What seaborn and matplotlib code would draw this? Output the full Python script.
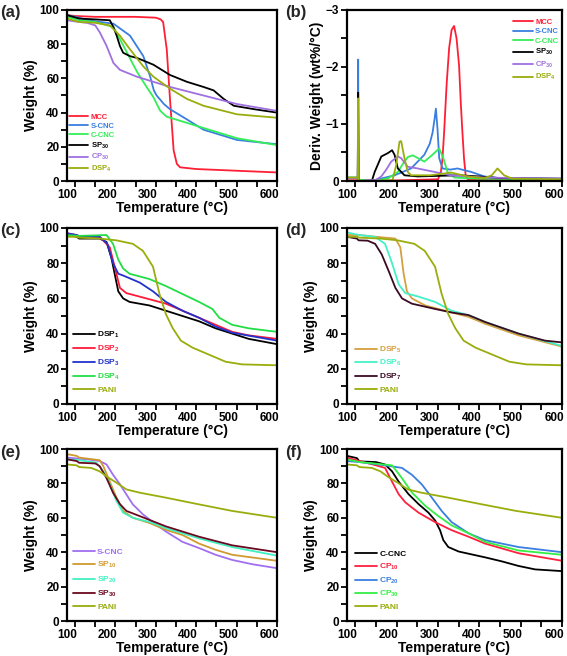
import matplotlib
matplotlib.use("Agg")
import matplotlib.pyplot as plt
import matplotlib.transforms as mtransforms
from matplotlib.ticker import MultipleLocator
import seaborn as sns

# dados (temperatura em oC, massa em %)

# (a) TGA dos materiais de partida
a_mcc_t = [80, 100, 150, 200, 250, 300, 312, 318, 327, 335, 344, 352, 360, 400, 500, 600]
a_mcc_w = [97, 96.5, 96, 96, 96, 95.5, 94.5, 93, 77, 48, 18, 10, 8, 7, 6, 5]
a_scnc_t = [80, 110, 130, 195, 236, 269, 286, 295, 302, 320, 335, 377, 418, 501, 600]
a_scnc_w = [97, 95.5, 94, 92, 85, 73, 61, 53, 50, 45, 42, 36, 30, 24, 21.5]
a_ccnc_t = [80, 110, 150, 195, 211, 253, 277, 294, 311, 327, 352, 418, 501, 600]
a_ccnc_w = [96, 94, 93, 90, 83, 64, 55, 49, 41, 37.6, 35.8, 31, 25, 21]
a_sp30_t = [80, 110, 150, 186, 195, 203, 211, 219, 236, 253, 294, 335, 377, 418, 443, 468, 493, 543, 600]
a_sp30_w = [97, 95, 94.5, 94, 90, 85, 79, 75, 73, 72, 68, 62, 58, 55, 53, 48, 44, 42, 40]
a_cp30_t = [80, 110, 130, 150, 161, 178, 195, 211, 253, 294, 335, 418, 501, 600]
a_cp30_w = [94, 93, 92.5, 91, 87, 79, 69, 65, 61, 58, 55, 50, 45, 41]
a_dsp4_t = [80, 110, 150, 186, 211, 236, 269, 294, 335, 377, 418, 501, 600]
a_dsp4_w = [95, 93, 92.5, 91, 85, 77, 67, 61, 54, 48, 44, 39, 37]

# (b) DTG
b_mcc_t = [80, 106, 108, 200, 300, 307, 311, 315, 321, 327, 333, 339, 345, 351, 355, 359, 363, 367, 372, 600]
b_mcc_d = [-0.04, -0.04, -0.01, -0.01, -0.03, -0.15, -0.4, -0.87, -1.7, -2.33, -2.65, -2.72, -2.5, -2.03, -1.4, -0.87, -0.4, -0.1, -0.03, -0.01]
b_scnc_t = [80, 106, 107, 108, 110, 150, 195, 235, 267, 280, 287, 292, 295, 299, 303, 311, 330, 347, 380, 412, 450, 600]
b_scnc_d = [-0.06, -0.06, -2.13, -0.02, 0, -0.02, -0.1, -0.22, -0.46, -0.65, -0.85, -1.1, -1.27, -0.9, -0.4, -0.22, -0.2, -0.22, -0.16, -0.08, -0.05, -0.04]
b_ccnc_t = [80, 106, 108, 150, 180, 203, 215, 227, 239, 252, 267, 285, 303, 313, 323, 340, 400, 600]
b_ccnc_d = [-0.06, -0.06, -0.02, 0, -0.05, -0.16, -0.3, -0.42, -0.45, -0.4, -0.34, -0.45, -0.57, -0.4, -0.16, -0.06, -0.04, -0.03]
b_sp30_t = [80, 106, 107, 108, 110, 140, 147, 163, 179, 189, 195, 203, 219, 251, 300, 350, 400, 450, 600]
b_sp30_d = [-0.05, -0.05, -1.55, -0.02, 0, 0, -0.16, -0.43, -0.49, -0.54, -0.46, -0.22, -0.1, -0.08, -0.09, -0.1, -0.08, -0.05, -0.04]
b_cp30_t = [80, 106, 107, 108, 110, 150, 163, 175, 187, 203, 211, 227, 251, 291, 331, 412, 600]
b_cp30_d = [-0.05, -0.05, -0.57, -0.02, 0, -0.02, -0.08, -0.2, -0.34, -0.43, -0.4, -0.25, -0.22, -0.16, -0.1, -0.06, -0.04]
b_dsp4_t = [80, 106, 107, 108, 110, 190, 199, 207, 211, 219, 227, 235, 280, 315, 331, 371, 412, 430, 444, 460, 480, 600]
b_dsp4_d = [-0.06, -0.06, -1.45, -0.02, 0, -0.01, -0.28, -0.69, -0.7, -0.4, -0.16, -0.1, -0.1, -0.13, -0.15, -0.08, -0.05, -0.1, -0.22, -0.1, -0.04, -0.03]

# PANI (c, d)
pani1_t = [80, 104, 110, 161, 202, 243, 268, 293, 309, 325, 342, 362, 391, 432, 473, 514, 600]
pani1_w = [95, 95, 94.5, 94, 93, 91, 87, 78, 62.5, 51, 43, 36, 32, 28, 24, 22.5, 22]

# (c) DSP1-4
c_dsp1_t = [80, 104, 110, 161, 178, 190, 198, 207, 219, 235, 284, 325, 366, 407, 448, 489, 530, 600]
c_dsp1_w = [96.5, 95, 94, 94, 92, 83, 74, 64, 60, 58, 56, 53, 50, 47, 43, 40, 37, 34]
c_dsp2_t = [80, 104, 110, 161, 186, 198, 211, 227, 260, 325, 366, 407, 448, 489, 530, 600]
c_dsp2_w = [97, 96, 95, 95, 89, 78, 66, 63, 61, 57, 53, 49, 45, 41, 39, 37]
c_dsp3_t = [80, 104, 110, 161, 180, 194, 207, 219, 260, 293, 325, 366, 407, 448, 489, 600]
c_dsp3_w = [97, 96, 95.5, 95, 91, 80, 74, 73, 69, 64, 58, 53, 49, 44, 40.5, 36]
c_dsp4_t = [80, 110, 178, 194, 207, 219, 235, 284, 325, 366, 407, 440, 457, 489, 530, 600]
c_dsp4_w = [96, 95.5, 96, 91, 82, 77, 74, 71, 67, 62.5, 58, 54, 49, 45, 43, 41]

# (d) DSP5-7
d_dsp5_t = [80, 110, 150, 197, 209, 217, 225, 237, 269, 333, 374, 414, 495, 600]
d_dsp5_w = [96, 96, 95, 94, 89, 74, 64, 60, 56, 52, 49.5, 45.6, 39, 32.6]
d_dsp6_t = [80, 110, 148, 172, 189, 205, 221, 253, 293, 333, 374, 414, 495, 600]
d_dsp6_w = [97.5, 96, 95, 91, 80, 68, 63, 61, 58, 53, 50.5, 46.6, 40, 33]
d_dsp7_t = [80, 104, 108, 130, 148, 164, 180, 197, 213, 237, 293, 333, 374, 414, 495, 559, 600]
d_dsp7_w = [95, 94, 93, 92.8, 91, 85, 76, 66, 60, 57, 54, 52, 50.5, 46.6, 40, 36, 35]

# PANI (e, f)
pani2_t = [80, 104, 110, 140, 161, 178, 202, 227, 260, 325, 407, 489, 600]
pani2_w = [91, 90.5, 89.5, 89, 87, 84, 80.5, 76.5, 74.6, 71.7, 67.8, 64, 60]

# (e) S-CNC e SP
e_scnc_t = [80, 130, 161, 178, 194, 211, 227, 243, 268, 301, 325, 366, 407, 448, 489, 539, 600]
e_scnc_w = [95, 94, 93, 91, 85, 79.5, 73.6, 67.8, 62, 56, 52, 46, 42.4, 38.5, 35.5, 33, 30.7]
e_sp10_t = [80, 104, 110, 161, 170, 186, 202, 219, 243, 284, 325, 366, 407, 448, 489, 600]
e_sp10_w = [97, 96, 95, 93.5, 90, 81, 72, 64, 60, 57, 53, 50, 45, 41.4, 38.5, 35]
e_sp20_t = [80, 110, 153, 170, 186, 202, 219, 243, 284, 325, 366, 407, 489, 600]
e_sp20_w = [94, 93.5, 92, 87, 79.5, 70, 63, 60, 57.6, 54, 51, 48, 43, 38]
e_sp30_t = [80, 104, 110, 150, 161, 178, 194, 211, 227, 260, 325, 366, 407, 489, 600]
e_sp30_w = [94, 93, 92, 91.6, 90, 83, 74.6, 68, 64, 61, 55, 52, 49, 44, 40]

# (f) C-CNC e CP
f_ccnc_t = [80, 104, 110, 150, 172, 189, 205, 229, 253, 277, 293, 305, 313, 325, 350, 414, 454, 495, 535, 600]
f_ccnc_w = [96, 94.7, 92.8, 92.4, 91, 87, 81, 73.7, 68, 63, 58.5, 52.8, 47, 43, 40.4, 37, 34.7, 32, 30, 29]
f_cp10_t = [80, 110, 150, 172, 189, 205, 221, 253, 293, 333, 374, 414, 495, 600]
f_cp10_w = [95, 93, 90.5, 89, 81, 73.7, 69, 63, 57.5, 52.8, 49, 45, 39.4, 35]
f_cp20_t = [80, 110, 172, 213, 237, 261, 285, 309, 333, 374, 414, 495, 600]
f_cp20_w = [93, 92.4, 90.5, 89, 85, 79.4, 71.8, 64, 57.5, 51, 47, 43, 40]
f_cp30_t = [80, 110, 189, 213, 237, 269, 301, 333, 374, 414, 495, 600]
f_cp30_w = [94, 92.4, 90.5, 83, 74.7, 67, 61, 55.6, 51, 46, 41, 38.5]

OLIVA = '#9aad0c'

sns.set_theme(style="ticks")
plt.rcParams['font.family'] = ['Liberation Sans', 'DejaVu Sans']
plt.rcParams['font.weight'] = 'bold'
plt.rcParams['axes.labelweight'] = 'bold'
plt.rcParams['mathtext.fontset'] = 'custom'
plt.rcParams['mathtext.rm'] = 'Liberation Sans:bold'
plt.rcParams['mathtext.bf'] = 'Liberation Sans:bold'
plt.rcParams['mathtext.default'] = 'bf'

fig = plt.figure(figsize=(5.67, 6.56), dpi=100)

# posicoes dos paineis em pixels (esquerda, topo, largura, altura)
caixas = {
    'a': (67, 10, 210, 171), 'b': (347, 10, 215, 171),
    'c': (67, 228, 210, 176), 'd': (347, 228, 215, 176),
    'e': (67, 449, 210, 172), 'f': (347, 449, 215, 172),
}
eixos = {}
for k, (x0, y0, w, h) in caixas.items():
    eixos[k] = fig.add_axes([x0 / 567, 1 - (y0 + h) / 656, w / 567, h / 656])


def desenha(ax, series):
    for t, y, cor, nome in series:
        sns.lineplot(x=t, y=y, color=cor, label=nome, ax=ax, linewidth=1.3,
                     sort=False, estimator=None)


def arruma(ax, ylabel, letra, deriv=False):
    ax.set_xlim(80, 600)
    ax.xaxis.set_major_locator(MultipleLocator(100))
    ax.xaxis.set_minor_locator(MultipleLocator(50))
    if deriv:
        ax.set_ylim(0, -3)
        ax.yaxis.set_major_locator(MultipleLocator(1))
        ax.yaxis.set_minor_locator(MultipleLocator(0.5))
    else:
        ax.set_ylim(0, 100)
        ax.yaxis.set_major_locator(MultipleLocator(20))
        ax.yaxis.set_minor_locator(MultipleLocator(10))
    for s in ax.spines.values():
        s.set_color('black')
        s.set_linewidth(1.6)
    ax.tick_params(which='both', direction='out', length=4, width=1.3,
                   colors='black', labelsize=8.5, pad=1.5)
    ax.set_xlabel('Temperature (°C)', fontsize=10, labelpad=0.5, color='black')
    ax.set_ylabel(ylabel, fontsize=10, labelpad=1, color='black')
    # os numeros do eixo x ficam um pouco a esquerda dos tracos no original
    desloca = mtransforms.ScaledTranslation(-0.08, 0, fig.dpi_scale_trans)
    for lab in ax.get_xticklabels():
        lab.set_transform(lab.get_transform() + desloca)
    pos = ax.get_position()
    fig.text(pos.x0 - 67 / 567 if pos.x0 < 0.3 else pos.x0 - 62 / 567, pos.y1 - 3 / 656,
             '(' + letra + ')', fontsize=12, fontweight='bold', va='center', ha='left')


def legenda(ax, **kw):
    leg = ax.legend(frameon=False, labelcolor='linecolor', handletextpad=0.3,
                    borderaxespad=0, borderpad=0.2, **kw)
    return leg


# (a)
ax = eixos['a']
desenha(ax, [
    (a_mcc_t, a_mcc_w, '#ff1f35', 'MCC'),
    (a_scnc_t, a_scnc_w, '#3a7fe0', 'S-CNC'),
    (a_ccnc_t, a_ccnc_w, '#33ee55', 'C-CNC'),
    (a_sp30_t, a_sp30_w, 'black', 'SP$_{30}$'),
    (a_cp30_t, a_cp30_w, '#a070e0', 'CP$_{30}$'),
    (a_dsp4_t, a_dsp4_w, OLIVA, 'DSP$_{4}$'),
])
arruma(ax, 'Weight (%)', 'a')
legenda(ax, loc='lower left', bbox_to_anchor=(0.0, 0.03), prop={'size': 5.5, 'weight': 'bold'},
        handlelength=2.6, labelspacing=0.22)

# (b)
ax = eixos['b']
desenha(ax, [
    (b_mcc_t, b_mcc_d, '#ff1f35', 'MCC'),
    (b_scnc_t, b_scnc_d, '#3a7fe0', 'S-CNC'),
    (b_ccnc_t, b_ccnc_d, '#33ee55', 'C-CNC'),
    (b_sp30_t, b_sp30_d, 'black', 'SP$_{30}$'),
    (b_cp30_t, b_cp30_d, '#a070e0', 'CP$_{30}$'),
    (b_dsp4_t, b_dsp4_d, OLIVA, 'DSP$_{4}$'),
])
arruma(ax, 'Deriv. Weight (wt%/°C)', 'b', deriv=True)
legenda(ax, loc='upper left', bbox_to_anchor=(0.765, 0.96), prop={'size': 5.5, 'weight': 'bold'},
        handlelength=2.6, labelspacing=0.3)

# (c)
ax = eixos['c']
desenha(ax, [
    (c_dsp1_t, c_dsp1_w, 'black', 'DSP$_{1}$'),
    (c_dsp2_t, c_dsp2_w, '#ff1a3a', 'DSP$_{2}$'),
    (c_dsp3_t, c_dsp3_w, '#2233cc', 'DSP$_{3}$'),
    (c_dsp4_t, c_dsp4_w, '#22dd44', 'DSP$_{4}$'),
    (pani1_t, pani1_w, OLIVA, 'PANI'),
])
arruma(ax, 'Weight (%)', 'c')
legenda(ax, loc='lower left', bbox_to_anchor=(0.02, 0.05), prop={'size': 6, 'weight': 'bold'},
        handlelength=2.6, labelspacing=0.45)

# (d)
ax = eixos['d']
desenha(ax, [
    (d_dsp5_t, d_dsp5_w, '#d4a040', 'DSP$_{5}$'),
    (d_dsp6_t, d_dsp6_w, '#44f0c8', 'DSP$_{6}$'),
    (d_dsp7_t, d_dsp7_w, '#3a0a22', 'DSP$_{7}$'),
    (pani1_t, pani1_w, OLIVA, 'PANI'),
])
arruma(ax, 'Weight (%)', 'd')
legenda(ax, loc='lower left', bbox_to_anchor=(0.03, 0.05), prop={'size': 6, 'weight': 'bold'},
        handlelength=2.6, labelspacing=0.42)

# (e)
ax = eixos['e']
desenha(ax, [
    (e_scnc_t, e_scnc_w, '#a070f0', 'S-CNC'),
    (e_sp10_t, e_sp10_w, '#d09a30', 'SP$_{10}$'),
    (e_sp20_t, e_sp20_w, '#40f0c0', 'SP$_{20}$'),
    (e_sp30_t, e_sp30_w, '#6a0a20', 'SP$_{30}$'),
    (pani2_t, pani2_w, OLIVA, 'PANI'),
])
arruma(ax, 'Weight (%)', 'e')
legenda(ax, loc='lower left', bbox_to_anchor=(0.02, 0.05), prop={'size': 6, 'weight': 'bold'},
        handlelength=2.6, labelspacing=0.48)

# (f)
ax = eixos['f']
desenha(ax, [
    (f_ccnc_t, f_ccnc_w, 'black', 'C-CNC'),
    (f_cp10_t, f_cp10_w, '#ff2040', 'CP$_{10}$'),
    (f_cp20_t, f_cp20_w, '#3a7fe0', 'CP$_{20}$'),
    (f_cp30_t, f_cp30_w, '#33ee44', 'CP$_{30}$'),
    (pani2_t, pani2_w, OLIVA, 'PANI'),
])
arruma(ax, 'Weight (%)', 'f')
legenda(ax, loc='lower left', bbox_to_anchor=(0.03, 0.05), prop={'size': 6, 'weight': 'bold'},
        handlelength=2.6, labelspacing=0.42)

fig.savefig('out.png', dpi=100)
